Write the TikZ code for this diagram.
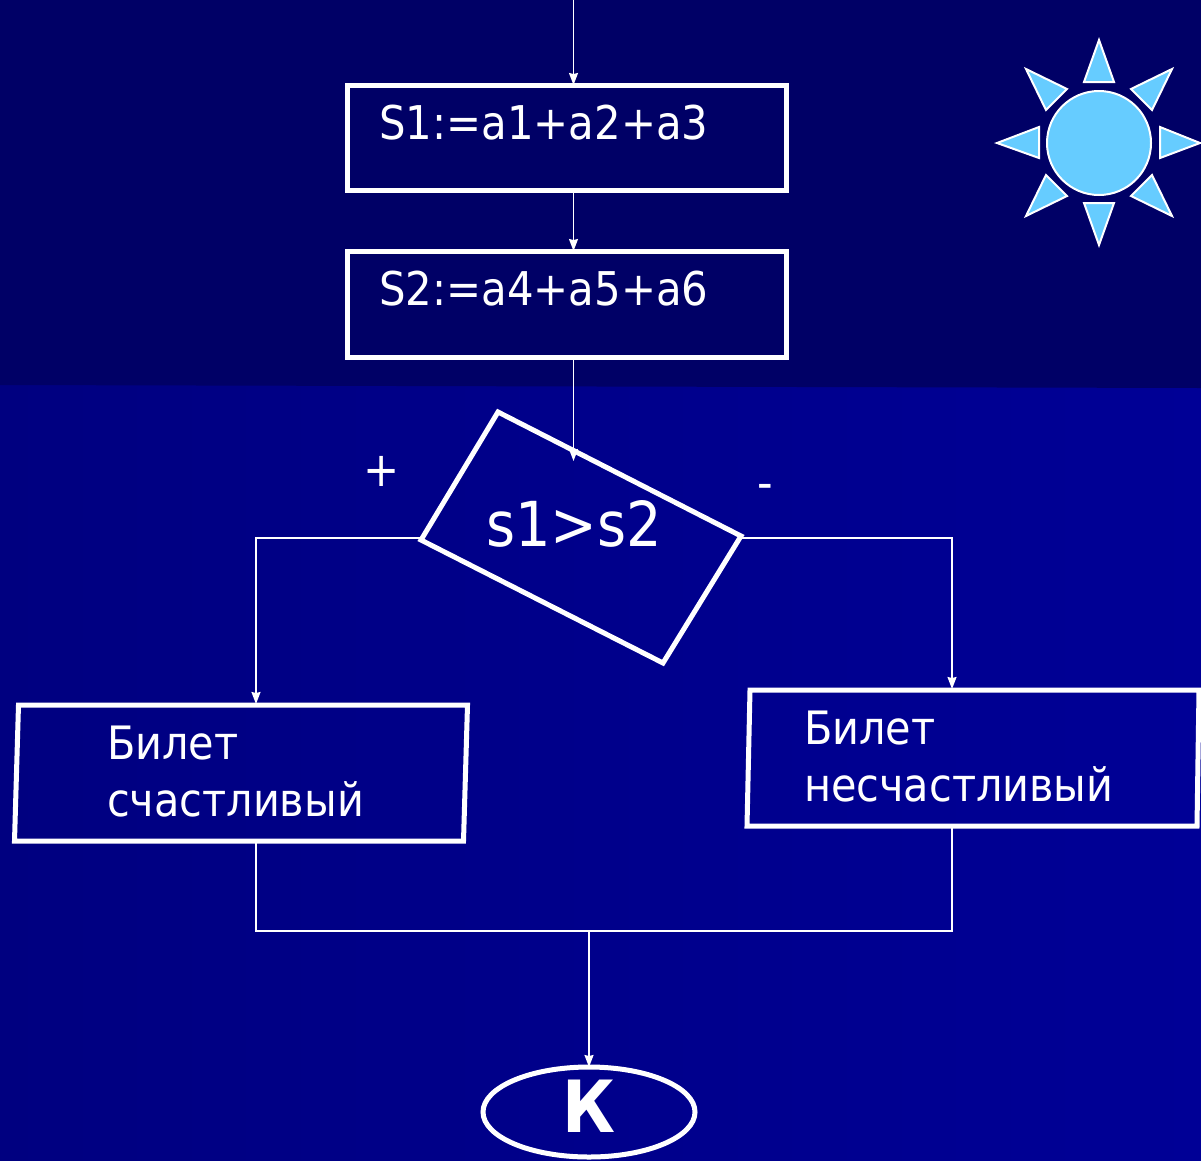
\documentclass[tikz,border=0pt]{standalone}
\usepackage{fontspec}
\setmainfont{DejaVu Sans Condensed}
\usetikzlibrary{arrows.meta,calc,shapes.geometric}
\definecolor{topbg}{RGB}{0,0,102}
\definecolor{bgl}{RGB}{0,0,128}
\definecolor{bgr}{RGB}{0,0,150}
\definecolor{sun}{RGB}{102,204,255}
\tikzset{
 x=1pt,y=-1pt,
 flowbox/.style={draw=white,line width=5pt,line join=miter,fill=none},
 flowline/.style={draw=white,line width=1.4pt},
 arrowline/.style={flowline,-{Stealth[length=12pt,width=9pt,inset=1pt]}},
 txt/.style={text=white,inner sep=0pt,anchor=base west,font=\fontsize{46.5}{46.5}\selectfont},
 cyr/.style={txt,font=\fontsize{46}{46}\selectfont},
 sunpart/.style={draw=white,fill=sun,line width=2pt,line join=miter},
}
\begin{document}
\begin{tikzpicture}
\useasboundingbox (0,0) rectangle (1201,1160);
\shade[left color=bgl,right color=bgr] (0,0) rectangle (1201,1160);
\fill[topbg] (0,0) -- (1201,0) -- (1201,388) -- (0,385) -- cycle;
% boxes
\coordinate (top) at (573.5,0);
\node[flowbox,minimum width=439pt,minimum height=105.5pt,inner sep=0pt,outer sep=0pt] (s1) at (566.5,137.75) {};
\node[flowbox,minimum width=439pt,minimum height=106pt,inner sep=0pt,outer sep=0pt] (s2) at (566.5,304) {};
\node[txt] (s1t) at (379,139) {S1:=a1+a2+a3};
\node[txt] (s2t) at (379,305) {S2:=a4+a5+a6};
% decision
\coordinate (da) at (498,412);
\coordinate (db) at (741,536);
\coordinate (dc) at (663,663);
\coordinate (dd) at (421,540);
\draw[flowbox] (da) -- (db) -- (dc) -- (dd) -- cycle;
\node[txt,font=\fontsize{62}{62}\selectfont] (dt) at (486,546) {s1>s2};
\coordinate (din) at (573.5,461);
\coordinate (dl) at (420,538);
\coordinate (dr) at (742,538);
\node[txt,font=\fontsize{48}{48}\selectfont] (plus) at (363,486) {+};
\node[txt,font=\fontsize{48}{48}\selectfont] (minus) at (757,499) {-};
% result boxes
\coordinate (la) at (18.5,705);
\coordinate (lb) at (467.5,705);
\coordinate (lc) at (463.5,841);
\coordinate (ld) at (14.5,841);
\draw[flowbox] (la) -- (lb) -- (lc) -- (ld) -- cycle;
\coordinate (ra) at (750,690);
\coordinate (rb) at (1199,690);
\coordinate (rc) at (1197,826);
\coordinate (rd) at (747,826);
\draw[flowbox] (ra) -- (rb) -- (rc) -- (rd) -- cycle;
\node[cyr] (l1) at (107,759) {Билет};
\node[cyr] (l2) at (107,816) {счастливый};
\node[cyr] (r1) at (804,744) {Билет};
\node[cyr] (r2) at (804,801) {несчастливый};
% terminal
\node[draw=white,line width=5pt,ellipse,minimum width=212pt,minimum height=90pt,inner sep=0pt,outer sep=0pt] (k) at (589,1112) {};
\node[txt,anchor=base,font=\fontsize{72}{72}\selectfont\bfseries] (kt) at (589,1132) {К};
% connectors
\coordinate (lj) at (256,704);
\coordinate (rj) at (952,689);
\coordinate (lo) at (256,841);
\coordinate (ro) at (952,826);
\coordinate (mj) at (589,931);
\draw[arrowline] (top) -- (top |- s1.north);
\draw[arrowline] (top |- s1.south) -- (top |- s2.north);
\draw[arrowline] (top |- s2.south) -- (din);
\draw[arrowline] (dl) -- (dl -| lj) -- (lj);
\draw[arrowline] (dr) -- (dr -| rj) -- (rj);
\draw[flowline] (lo) -- (lo |- mj) -- (ro |- mj) -- (ro);
\draw[arrowline] (mj) -- (k.north);
% sun
\node[sunpart,circle,minimum size=104pt,inner sep=0pt] (sunc) at (1099,143) {};
\draw[sunpart] (1099,40) -- (1114,82) -- (1084,82) -- cycle;
\draw[sunpart] (1099,245) -- (1114,203) -- (1084,203) -- cycle;
\draw[sunpart] (997,143) -- (1039,127) -- (1039,158) -- cycle;
\draw[sunpart] (1200,143) -- (1160,127) -- (1160,158) -- cycle;
\draw[sunpart] (1172,69) -- (1131,89) -- (1152,110) -- cycle;
\draw[sunpart] (1026,69) -- (1067,89) -- (1046,110) -- cycle;
\draw[sunpart] (1172,216) -- (1131,196) -- (1152,175) -- cycle;
\draw[sunpart] (1026,216) -- (1067,196) -- (1046,175) -- cycle;
\end{tikzpicture}
\end{document}
